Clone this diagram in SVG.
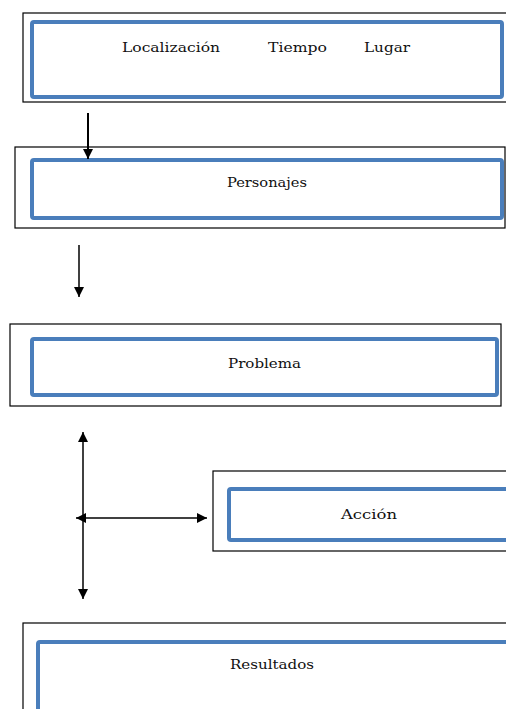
<svg xmlns="http://www.w3.org/2000/svg" width="506" height="709" viewBox="0 0 506 709">
<style>
.outer{fill:#fff;stroke:#000;stroke-width:1.2}
.inner{fill:#fff;stroke:#4a7ebb;stroke-width:4}
.t{fill:#111}
.c{stroke:#000;fill:none}
</style>
<defs>
<marker id="ah" viewBox="0 0 10 10" refX="10" refY="5" markerWidth="10" markerHeight="10" markerUnits="userSpaceOnUse" orient="auto-start-reverse">
<path d="M0,0 L10,5 L0,10 z" fill="#000"/>
</marker>
</defs>
<rect width="506" height="709" fill="#fff"/>
<g font-family="'DejaVu Serif', 'Liberation Serif', serif" font-size="13.5">
<g id="n1">
<rect class="outer" x="23" y="13" width="490" height="89"/>
<rect class="inner" x="32" y="22" width="470" height="75" rx="2"/>
<text class="t" x="122" y="52" textLength="98" lengthAdjust="spacingAndGlyphs">Localización</text>
<text class="t" x="268" y="52" textLength="59" lengthAdjust="spacingAndGlyphs">Tiempo</text>
<text class="t" x="364" y="52" textLength="46" lengthAdjust="spacingAndGlyphs">Lugar</text>
</g>
<g id="n2">
<rect class="outer" x="15" y="147" width="490" height="81"/>
<rect class="inner" x="32" y="160" width="470" height="58" rx="2"/>
<text class="t" x="227" y="187" textLength="80" lengthAdjust="spacingAndGlyphs">Personajes</text>
</g>
<g id="n3">
<rect class="outer" x="10" y="324" width="491" height="82"/>
<rect class="inner" x="32" y="339" width="465" height="56" rx="2"/>
<text class="t" x="228" y="368" textLength="73" lengthAdjust="spacingAndGlyphs">Problema</text>
</g>
<g id="n4">
<rect class="outer" x="213" y="471" width="300" height="80"/>
<rect class="inner" x="229" y="489" width="280" height="51" rx="2"/>
<text class="t" x="341" y="519" textLength="56" lengthAdjust="spacingAndGlyphs">Acción</text>
</g>
<g id="n5">
<rect class="outer" x="23" y="623" width="490" height="100"/>
<rect class="inner" x="38" y="642" width="470" height="80" rx="2"/>
<text class="t" x="230" y="669" textLength="84" lengthAdjust="spacingAndGlyphs">Resultados</text>
</g>
</g>
<g id="connectors">
<line class="c" x1="88" y1="113" x2="88" y2="159" stroke-width="2" marker-end="url(#ah)"/>
<line class="c" x1="79" y1="245" x2="79" y2="297" stroke-width="1.5" marker-end="url(#ah)"/>
<line class="c" x1="83" y1="432" x2="83" y2="599" stroke-width="1.5" marker-start="url(#ah)" marker-end="url(#ah)"/>
<line class="c" x1="76" y1="518" x2="207" y2="518" stroke-width="1.5" marker-start="url(#ah)" marker-end="url(#ah)"/>
</g>
</svg>
